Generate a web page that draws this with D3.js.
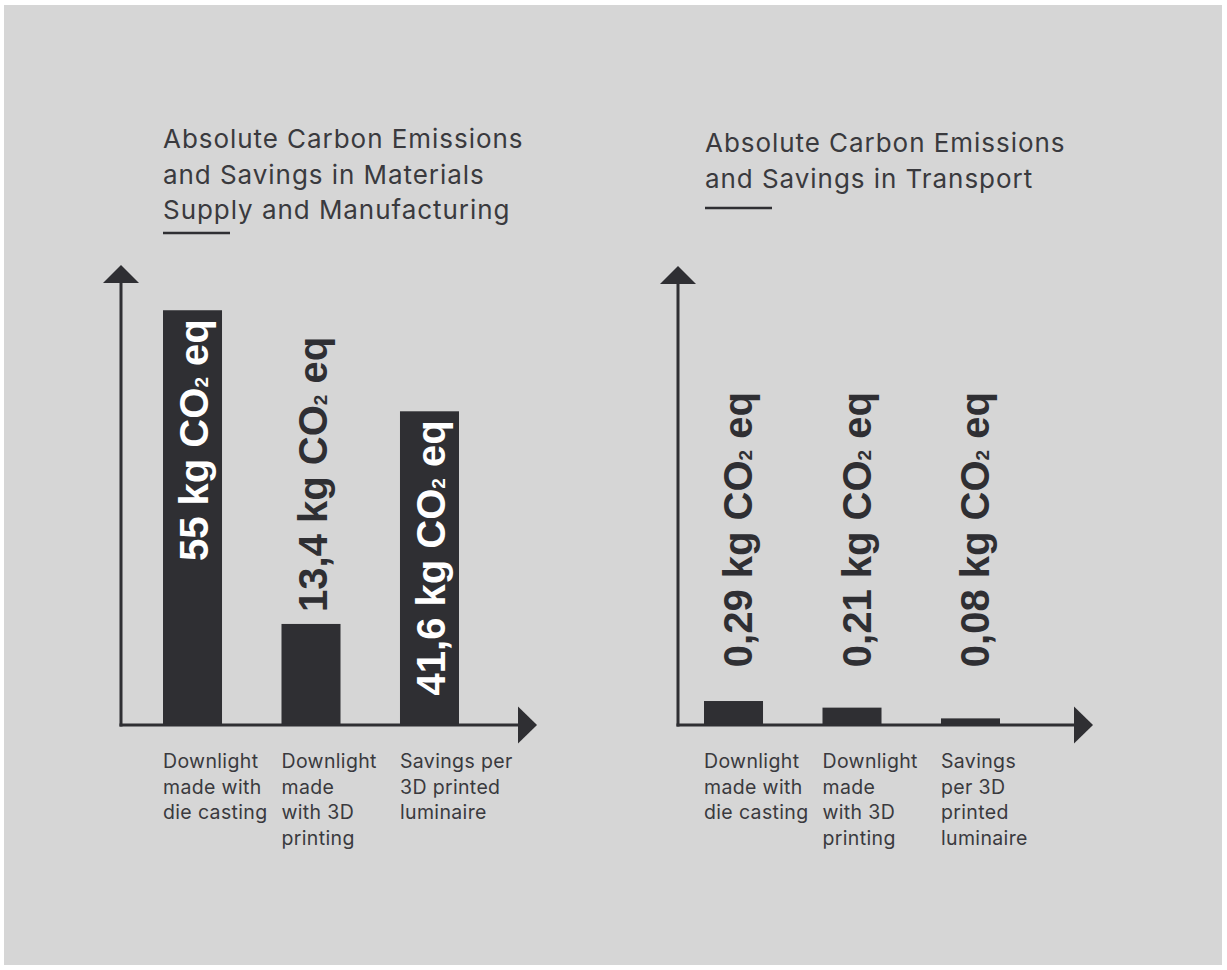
<!DOCTYPE html>
<html><head><meta charset="utf-8">
<script src="https://cdn.jsdelivr.net/npm/d3@7"></script>
<style>html,body{margin:0;padding:0;background:#fff;} svg{display:block}</style>
</head><body>
<svg id="c" width="1227" height="970"></svg>
<script>
// ---------- data ----------
const materialsTitle = ["Absolute Carbon Emissions", "and Savings in Materials", "Supply and Manufacturing"];
const materialsCategories = [
  ["Downlight", "made with", "die casting"],
  ["Downlight", "made", "with 3D", "printing"],
  ["Savings per", "3D printed", "luminaire"]
];
const materialsValues = [55, 13.4, 41.6];
const materialsValueText = ["55", "13,4", "41,6"];
const materialsLabelInside = [true, false, true];

const transportTitle = ["Absolute Carbon Emissions", "and Savings in Transport"];
const transportCategories = [
  ["Downlight", "made with", "die casting"],
  ["Downlight", "made", "with 3D", "printing"],
  ["Savings", "per 3D", "printed", "luminaire"]
];
const transportValues = [0.29, 0.21, 0.08];
const transportValueText = ["0,29", "0,21", "0,08"];
const transportLabelInside = [false, false, false];

const unitBefore = " kg CO";
const unitSub = "2";
const unitAfter = " eq";

// ---------- style ----------
const BG = "#d6d6d6";
const DARK = "#2f2f33";
const TEXT = "#3a3a3e";
const SANS = "Inter, 'Noto Sans', sans-serif";
const BOLD = "'Liberation Sans', Arial, sans-serif";

const svg = d3.select("#c");
svg.append("rect").attr("x", 4).attr("y", 5).attr("width", 1218).attr("height", 960).attr("fill", BG);

function drawChart(cfg) {
  const g = svg.append("g");
  const cats = cfg.categories.map((d, i) => "c" + i);
  const x = d3.scaleBand().domain(cats).range([cfg.bandStart, cfg.bandEnd]).paddingInner(0.502).paddingOuter(0);
  const y = d3.scaleLinear().domain([0, cfg.yMax]).range([cfg.baseY, cfg.topY]);

  // title
  const t = g.append("text").attr("x", cfg.titleX).attr("y", cfg.titleY)
    .attr("font-family", SANS).attr("font-size", 26).attr("letter-spacing", 0.95).attr("fill", TEXT);
  cfg.title.forEach((line, i) => t.append("tspan").attr("x", cfg.titleX).attr("dy", i === 0 ? 0 : 35.5).text(line));
  g.append("line").attr("x1", cfg.titleX).attr("x2", cfg.titleX + 67)
    .attr("y1", cfg.underlineY).attr("y2", cfg.underlineY)
    .attr("stroke", DARK).attr("stroke-width", 2.5);

  // bars
  g.selectAll("rect.bar").data(cfg.values).join("rect").attr("class", "bar")
    .attr("x", (d, i) => x(cats[i])).attr("width", x.bandwidth())
    .attr("y", d => y(d)).attr("height", d => y(0) - y(d))
    .attr("fill", DARK);

  // axes
  const axisX0 = cfg.axisX;
  const y0 = y(0);
  const topY = y.range()[1];
  g.append("line").attr("x1", axisX0).attr("x2", axisX0).attr("y1", y0 + 1.5).attr("y2", topY + 10)
    .attr("stroke", DARK).attr("stroke-width", 3);
  g.append("path").attr("d", `M${axisX0},${topY} L${axisX0 + 18},${topY + 18} L${axisX0 - 18},${topY + 18}Z`).attr("fill", DARK);
  g.append("line").attr("x1", axisX0 - 1.5).attr("x2", cfg.axisEnd - 10).attr("y1", y0).attr("y2", y0)
    .attr("stroke", DARK).attr("stroke-width", 3);
  g.append("path").attr("d", `M${cfg.axisEnd},${y0} L${cfg.axisEnd - 19},${y0 - 18.5} L${cfg.axisEnd - 19},${y0 + 18.5}Z`).attr("fill", DARK);

  // category labels
  cfg.categories.forEach((lines, i) => {
    const tx = g.append("text").attr("x", x(cats[i])).attr("y", y0 + 43)
      .attr("font-family", SANS).attr("font-size", 19.5).attr("letter-spacing", 0.35).attr("fill", TEXT);
    lines.forEach((l, j) => tx.append("tspan").attr("x", x(cats[i])).attr("dy", j === 0 ? 0 : 25.5).text(l));
  });

  // value labels (rotated)
  cfg.values.forEach((v, i) => {
    const cx = x(cats[i]) + x.bandwidth() / 2 + cfg.labelDx;
    let ly, anchor, fill;
    if (cfg.labelTop != null) { ly = cfg.labelTop; anchor = "end"; fill = DARK; }
    else if (cfg.inside[i]) { ly = y(v) + 9; anchor = "end"; fill = "#ffffff"; }
    else { ly = y(v) - 12; anchor = "start"; fill = DARK; }
    const tx = g.append("text")
      .attr("transform", `translate(${cx + 14},${ly}) rotate(-90)`)
      .attr("text-anchor", anchor)
      .attr("font-family", BOLD).attr("font-weight", "bold").attr("font-size", 40).attr("fill", fill);
    tx.append("tspan").text(cfg.valueText[i] + unitBefore);
    tx.append("tspan").attr("font-size", 19).text(unitSub);
    tx.append("tspan").text(unitAfter);
  });
}

drawChart({
  title: materialsTitle, categories: materialsCategories, values: materialsValues,
  valueText: materialsValueText, inside: materialsLabelInside,
  titleX: 163, titleY: 148, underlineY: 233,
  bandStart: 163, bandEnd: 459, yMax: 61, baseY: 725, topY: 265,
  axisX: 121, axisEnd: 537, labelDx: 1.5, labelTop: null
});
drawChart({
  title: transportTitle, categories: transportCategories, values: transportValues,
  valueText: transportValueText, inside: transportLabelInside,
  titleX: 705, titleY: 152, underlineY: 208,
  bandStart: 704, bandEnd: 1000, yMax: 5.55, baseY: 725, topY: 266,
  axisX: 678, axisEnd: 1093, labelDx: 4.5, labelTop: 392
});
</script>
</body></html>
